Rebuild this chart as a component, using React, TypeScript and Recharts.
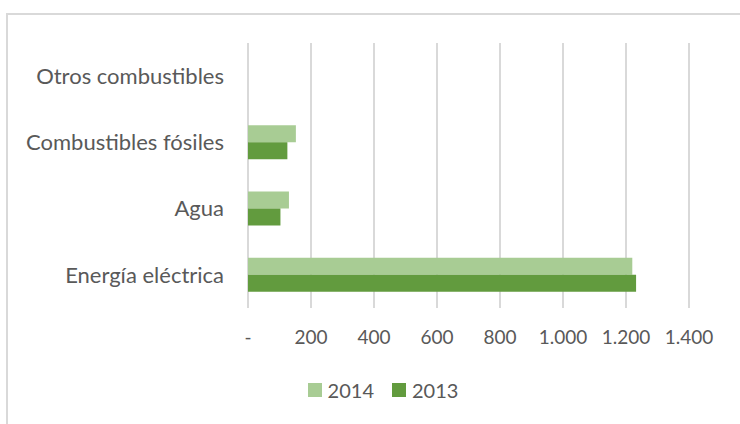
import React from "react";
import {
  Bar,
  BarChart,
  CartesianGrid,
  Legend,
  XAxis,
  YAxis,
} from "recharts";

const categories = [
  "Otros combustibles",
  "Combustibles fósiles",
  "Agua",
  "Energía eléctrica",
];
const values2014 = [0, 152, 130, 1220];
const values2013 = [0, 125, 103, 1232];
const xTicks = [0, 200, 400, 600, 800, 1000, 1200, 1400];
const seriesOrder = ["2014", "2013"];

const data = categories.map((name, i) => ({
  name,
  y2014: values2014[i],
  y2013: values2013[i],
}));

const FONT = "Lato, 'Liberation Sans', sans-serif";
const TEXT = "#595959";
const LIGHT = "#a8cc94";
const DARK = "#629b3e";

const fmt = (v: number) =>
  v === 0 ? "-" : v.toString().replace(/\B(?=(\d{3})+(?!\d))/g, ".");

function LegendContent(props: any) {
  const items = [...(props.payload || [])].sort(
    (a: any, b: any) => seriesOrder.indexOf(a.value) - seriesOrder.indexOf(b.value)
  );
  return (
    <div
      style={{
        display: "flex",
        justifyContent: "center",
        alignItems: "center",
        height: 30,
        fontFamily: FONT,
        fontSize: 20,
        color: TEXT,
      }}
    >
      {items.map((p: any, i: number) => (
        <div
          key={i}
          style={{ display: "flex", alignItems: "center", marginRight: i === 0 ? 18 : 0 }}
        >
          <span
            style={{
              display: "inline-block",
              width: 14,
              height: 14,
              background: p.color,
              marginRight: 6,
            }}
          />
          <span>{p.value}</span>
        </div>
      ))}
    </div>
  );
}

export default function App() {
  return (
    <div
      style={{
        position: "absolute",
        left: 0,
        top: 0,
        width: 740,
        height: 424,
        overflow: "hidden",
        background: "#fff",
      }}
    >
      <div
        style={{
          position: "absolute",
          left: 6,
          top: 13,
          width: 800,
          height: 500,
          borderTop: "2px solid #d9d9d9",
          borderLeft: "2px solid #d9d9d9",
        }}
      />
      <div style={{ position: "absolute", left: 0, top: 0 }}>
        <BarChart
          width={740}
          height={424}
          data={data}
          layout="vertical"
          margin={{ top: 43, right: 51, left: 0, bottom: 19 }}
          barGap={0}
          barSize={17}
        >
          <CartesianGrid
            horizontal={false}
            stroke="#d9d9d9"
            strokeWidth={2}
          />
          <XAxis
            type="number"
            domain={[0, 1400]}
            ticks={xTicks}
            tickFormatter={fmt}
            axisLine={false}
            tickLine={false}
            tickSize={0}
            tickMargin={23}
            height={67}
            interval={0}
            tick={{ fill: TEXT, fontSize: 19, fontFamily: FONT }}
          />
          <YAxis
            type="category"
            dataKey="name"
            width={248}
            axisLine={false}
            tickLine={false}
            tickSize={0}
            tickMargin={24}
            interval={0}
            tick={{ fill: TEXT, fontSize: 22, fontFamily: FONT }}
          />
          <Legend
            verticalAlign="bottom"
            content={<LegendContent />}
            wrapperStyle={{ left: 26, width: 714 }}
          />
          <Bar dataKey="y2014" name="2014" fill={LIGHT} isAnimationActive={false} />
          <Bar dataKey="y2013" name="2013" fill={DARK} isAnimationActive={false} />
        </BarChart>
      </div>
    </div>
  );
}
